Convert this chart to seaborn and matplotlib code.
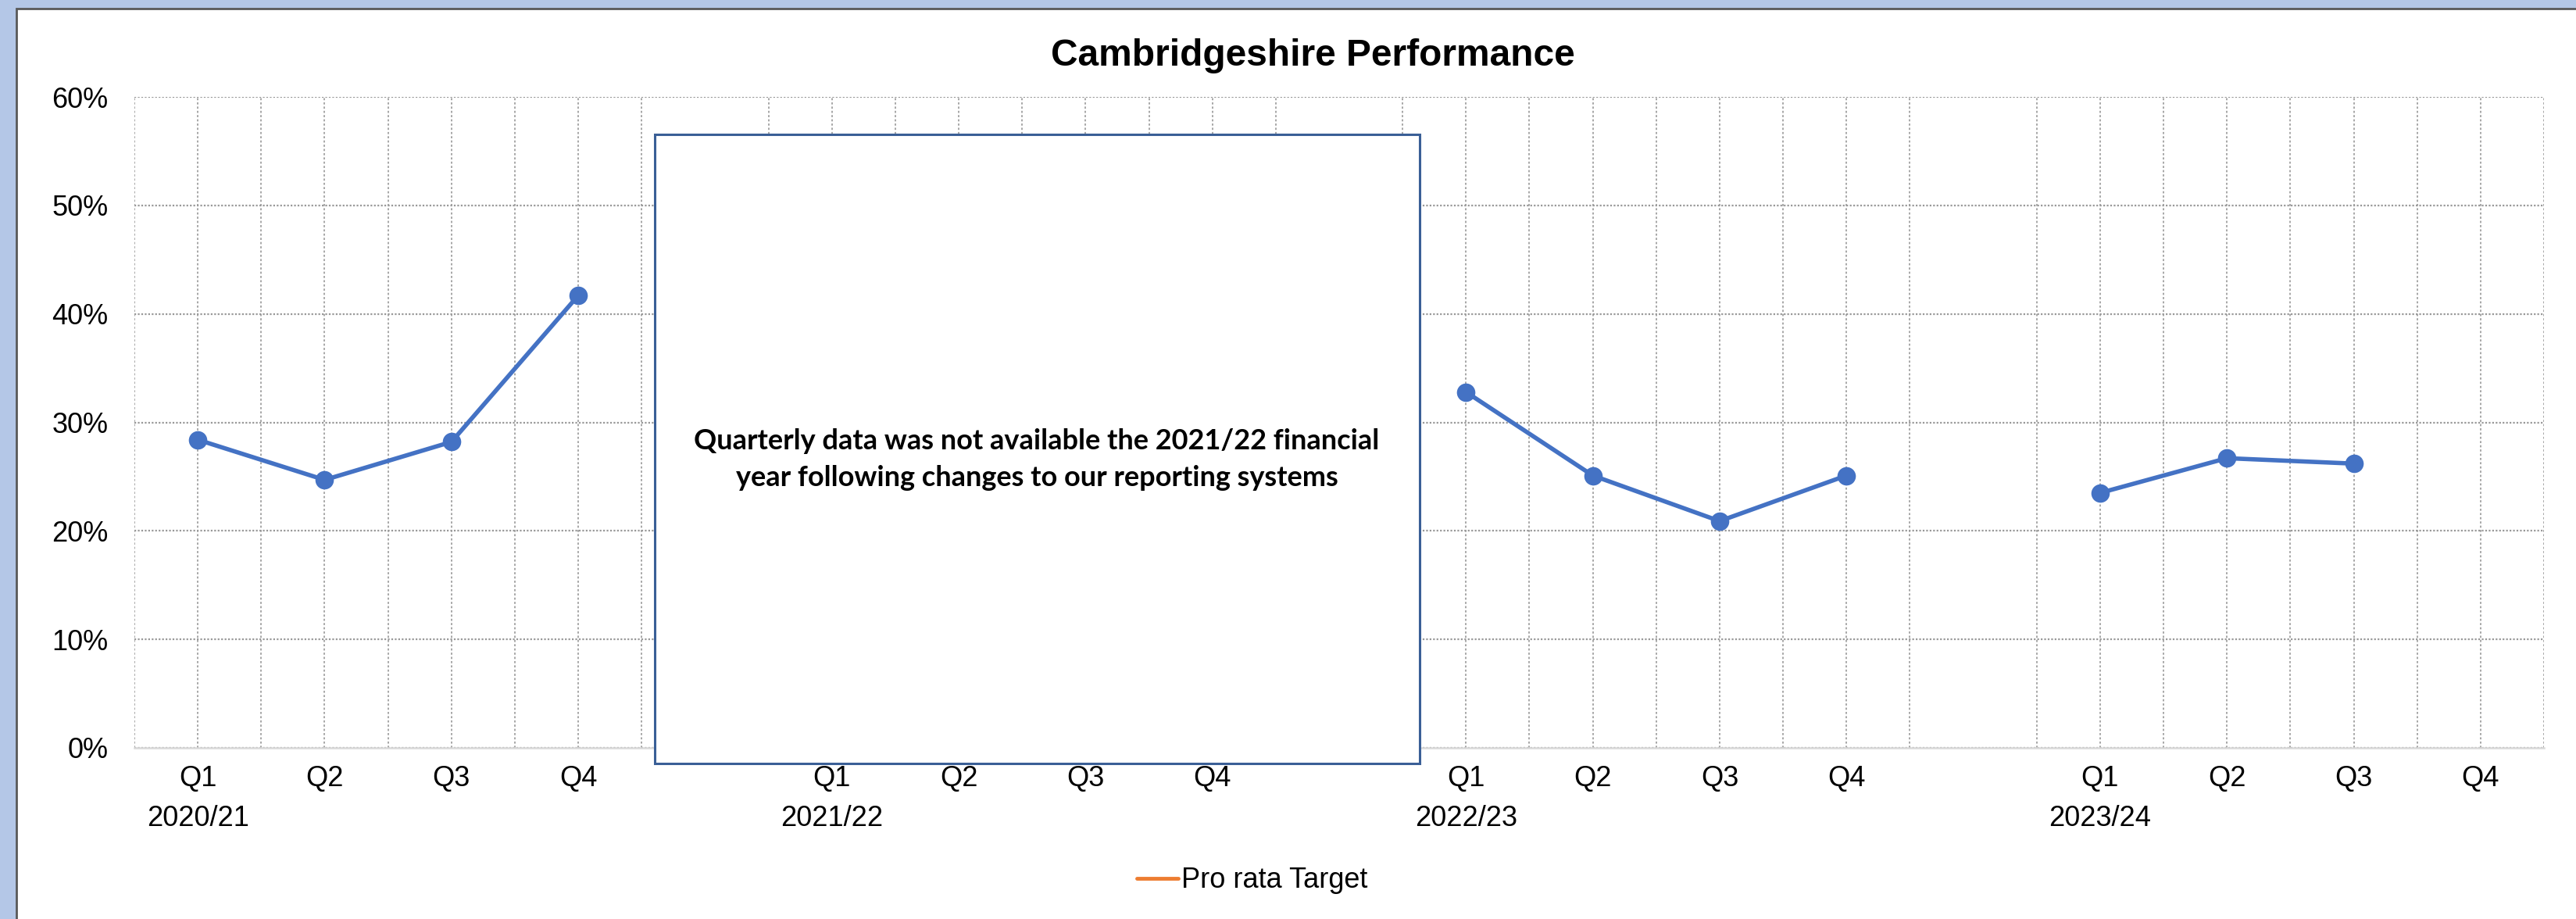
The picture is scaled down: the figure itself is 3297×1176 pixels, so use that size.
import numpy as np
import pandas as pd
import seaborn as sns
import matplotlib.pyplot as plt
from matplotlib.lines import Line2D
from matplotlib.patches import Rectangle
from matplotlib.ticker import PercentFormatter

# data
years = ["2020/21", "2021/22", "2022/23", "2023/24"]
quarters = ["Q1", "Q2", "Q3", "Q4"]
perf_2020_21 = [0.284, 0.247, 0.282, 0.417]
perf_2021_22 = [np.nan, np.nan, np.nan, np.nan]  # not available
perf_2022_23 = [0.328, 0.251, 0.209, 0.251]
perf_2023_24 = [0.235, 0.267, 0.262, np.nan]
note = ("Quarterly data was not available the 2021/22 financial\n"
        "year following changes to our reporting systems")

series = [perf_2020_21, perf_2021_22, perf_2022_23, perf_2023_24]
rows = []
for i, (yr, vals) in enumerate(zip(years, series)):
    for j, (q, v) in enumerate(zip(quarters, vals)):
        rows.append({"year": yr, "quarter": q, "pos": i * 5 + j, "value": v})
df = pd.DataFrame(rows)

sns.set_theme(style="white")
plt.rcParams["font.family"] = ["Liberation Sans", "DejaVu Sans"]
plt.rcParams["text.color"] = "black"

W, H = 3297, 1176
fig = plt.figure(figsize=(W / 100, H / 100), dpi=100)
fig.patch.set_facecolor("#B4C7E7")
# white chart area with grey frame (top/left)
fig.add_artist(Rectangle((21 / W, -0.05), 1.0, (1176 - 11) / H + 0.05,
                         transform=fig.transFigure, facecolor="white",
                         edgecolor="#595959", lw=2, zorder=-1))

ax = fig.add_axes([172 / W, 1 - 957 / H, (3256 - 172) / W, (957 - 124) / H])
ax.set_facecolor("white")

blue = "#4472C4"
plot_df = df.dropna(subset=["value"])
sns.lineplot(data=plot_df, x="pos", y="value", hue="year",
             palette=[blue] * plot_df["year"].nunique(), legend=False,
             marker="o", markersize=17, markeredgewidth=0, linewidth=4,
             ax=ax, zorder=3)

n_cat = len(years) * 5 - 1
ax.set_xlim(-0.5, n_cat - 0.5)
ax.set_ylim(0, 0.6)
ax.set_yticks(np.arange(0, 0.61, 0.1))
ax.yaxis.set_major_formatter(PercentFormatter(1.0, decimals=0))

ax.set_xticks(df["pos"])
ax.set_xticklabels(df["quarter"])
ax.set_xticks(np.arange(-0.5, n_cat, 1.0), minor=True)
ax.set_xlabel("")
ax.set_ylabel("")

ax.tick_params(axis="both", length=0, labelsize=26, colors="black")
ax.tick_params(axis="x", pad=16)
ax.tick_params(axis="y", pad=24)

ax.grid(False)
ax.xaxis.grid(True, which="both", color="#A0A0A0", lw=1.3, ls=(0, (1.5, 1.5)))
ax.yaxis.grid(True, which="major", color="#999999", lw=1.6, ls=(0, (1, 1)))
for s in ["top", "left", "right"]:
    ax.spines[s].set_visible(False)
ax.spines["bottom"].set_color("#D9D9D9")
ax.spines["bottom"].set_linewidth(1.8)
ax.spines["bottom"].set_zorder(2.5)

# financial year labels under each Q1
for i, yr in enumerate(years):
    ax.text(i * 5, -(1057 - 957) / (957 - 124), yr, transform=ax.get_xaxis_transform(),
            ha="center", va="baseline", fontsize=26, color="black")

# title
fig.text(1680 / W, 1 - 72 / H, "Cambridgeshire Performance", ha="center",
         va="center", fontsize=34.5, fontweight="bold", color="black")

# message box
fig.add_artist(Rectangle((838 / W, 1 - 977 / H), (1817 - 838) / W, (977 - 172) / H,
                         transform=fig.transFigure, facecolor="white",
                         edgecolor="#3A5F96", lw=2.2, zorder=5))
fig.text(1327 / W, 1 - 588 / H, note, ha="center", va="center", fontsize=26,
         fontweight="bold", family=["Lato", "DejaVu Sans"], linespacing=1.5,
         color="black", zorder=6)

# legend
handle = Line2D([], [], color="#ED7D31", lw=3.5)
leg = fig.legend([handle], ["Pro rata Target"], loc="center",
                 bbox_to_anchor=(1603 / W, 1 - 1127 / H), frameon=False, fontsize=26,
                 handlelength=1.45, handletextpad=0.12)
for t in leg.get_texts():
    t.set_color("black")

fig.savefig("out.png", dpi=100, facecolor=fig.get_facecolor())
